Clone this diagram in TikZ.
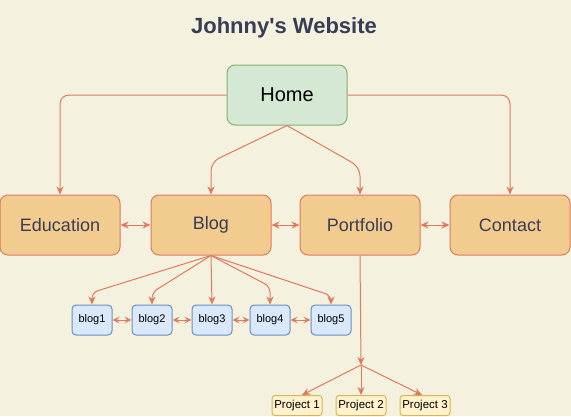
\documentclass[tikz,border=0pt]{standalone}
\usepackage{fontspec}
\setmainfont{Liberation Sans}[Ligatures=TeXOff]
\usepackage{tikz}
\usetikzlibrary{arrows.meta}

\definecolor{paper}{HTML}{F4F1DE}
\definecolor{sand}{HTML}{F2CC8F}
\definecolor{clay}{HTML}{E07A5F}
\definecolor{ink}{HTML}{393C56}
\definecolor{leaf}{HTML}{D5E8D4}
\definecolor{leafline}{HTML}{82B366}
\definecolor{sky}{HTML}{DAE8FC}
\definecolor{skyline}{HTML}{6C8EBF}
\definecolor{cream}{HTML}{FFF2CC}
\definecolor{creamline}{HTML}{D6B656}

\tikzset{
  page/.style={draw=clay, fill=sand, text=ink, rounded corners=8pt, line width=1pt,
    minimum width=120pt, minimum height=60pt, font=\fontsize{18}{20}\selectfont},
  homebox/.style={page, draw=leafline, fill=leaf, text=black, font=\fontsize{20}{22}\selectfont},
  post/.style={draw=skyline, fill=sky, rounded corners=4pt, line width=1pt,
    minimum width=40pt, minimum height=30pt, inner sep=1pt, font=\fontsize{11}{13}\selectfont},
  project/.style={draw=creamline, fill=cream, rounded corners=3pt, line width=1pt,
    minimum width=50pt, minimum height=20pt, inner sep=1pt, font=\fontsize{11.5}{13}\selectfont},
  link/.style={draw=clay, line width=1pt, rounded corners=9pt,
    -{Stealth[length=8pt,width=7pt,inset=2.5pt]}},
  both/.style={draw=clay, line width=1pt,
    {Stealth[length=8pt,width=7pt,inset=2.5pt]}-{Stealth[length=8pt,width=7pt,inset=2.5pt]}},
  bothsmall/.style={draw=clay, line width=1pt,
    {Stealth[length=7pt,width=6.5pt,inset=2.5pt]}-{Stealth[length=7pt,width=6.5pt,inset=2.5pt]}}
}

\begin{document}
\begin{tikzpicture}[x=1pt, y=-1pt]
    \fill[paper] (0, 0) rectangle (571, 416);
    \useasboundingbox (0, 0) rectangle (571, 416);

    \node[anchor=base, text=ink, font=\bfseries\fontsize{22}{24}\selectfont] (title) at (284, 33) {Johnny's Website};

    \node[homebox] (home) at (287, 95) {Home};

    \node[page] (edu) at (60, 225) {Education};
    \node[page] (blog) at (211, 225) {Blog};
    \node[page] (port) at (360, 225) {Portfolio};
    \node[page] (contact) at (510, 225) {Contact};

    \node[post] (blog1) at (92, 320) {blog1};
    \node[post] (blog2) at (152, 320) {blog2};
    \node[post] (blog3) at (212, 320) {blog3};
    \node[post] (blog4) at (270, 320) {blog4};
    \node[post] (blog5) at (331, 320) {blog5};

    \node[project] (proj1) at (297, 405.5) {Project 1};
    \node[project] (proj2) at (361, 405.5) {Project 2};
    \node[project] (proj3) at (425, 405.5) {Project 3};

    \coordinate (fork) at (361, 365);

    % home to the four pages
    \draw[link] (home.west) -| (edu.north);
    \draw[link] (home.east) -| (contact.north);
    \draw[link] (home.south) -- (211, 162) -- (blog.north);
    \draw[link] (home.south) -- (360, 167) -- (port.north);

    % pages side by side
    \draw[both] (edu.east) -- (blog.west);
    \draw[both] (blog.east) -- (port.west);
    \draw[both] (port.east) -- (contact.west);

    % blog posts
    \draw[link, rounded corners=6pt] (blog.south) -- ([yshift=12pt]blog1.north) -- (blog1.north);
    \draw[link, rounded corners=6pt] (blog.south) -- ([yshift=12pt]blog2.north) -- (blog2.north);
    \draw[link] (blog.south) -- (blog3.north);
    \draw[link, rounded corners=6pt] (blog.south) -- ([yshift=18pt]blog4.north) -- (blog4.north);
    \draw[link, rounded corners=6pt] (blog.south) -- ([yshift=9pt]blog5.north) -- (blog5.north);

    \draw[bothsmall] (blog1.east) -- (blog2.west);
    \draw[bothsmall] (blog2.east) -- (blog3.west);
    \draw[bothsmall] (blog3.east) -- (blog4.west);
    \draw[bothsmall] (blog4.east) -- (blog5.west);

    % projects
    \draw[link] (port.south) -- (fork);
    \draw[link] (fork) -- ([xshift=5pt]proj1.north);
    \draw[link] (fork) -- (proj2.north);
    \draw[link] (fork) -- ([xshift=-3pt]proj3.north);
\end{tikzpicture}
\end{document}
